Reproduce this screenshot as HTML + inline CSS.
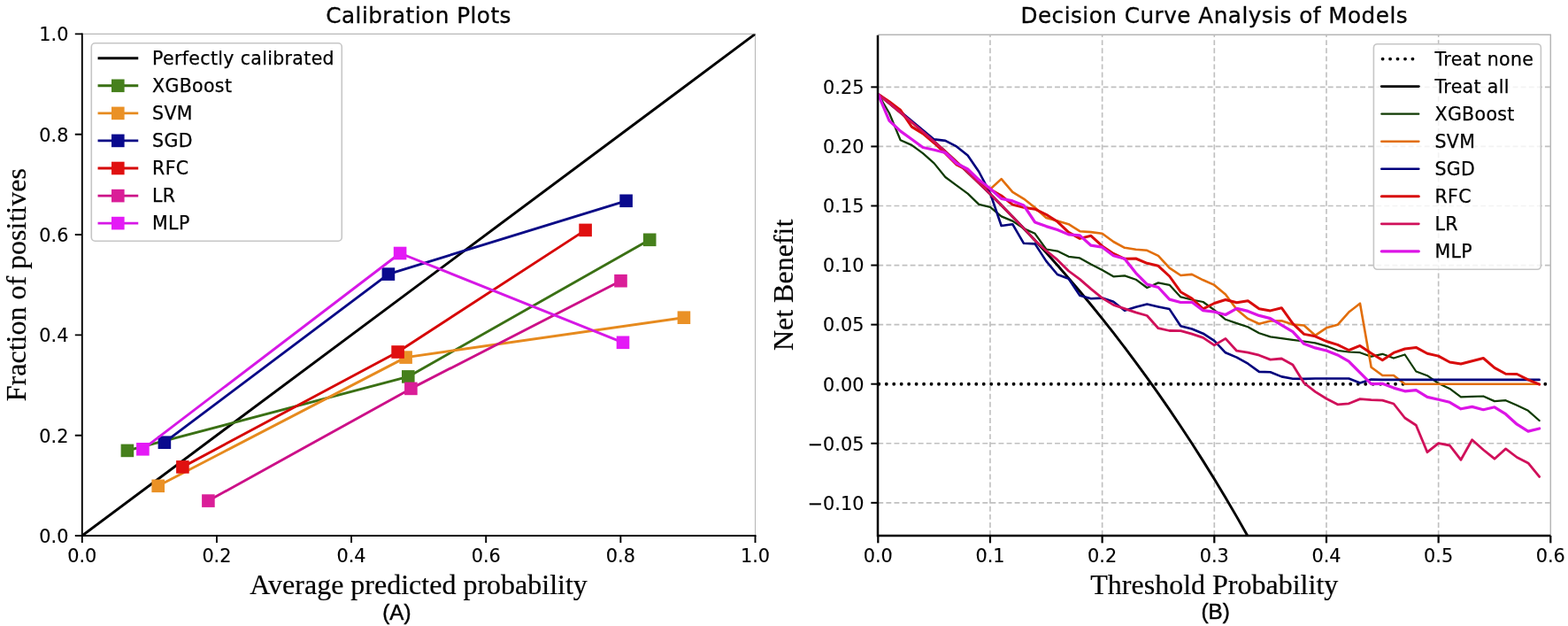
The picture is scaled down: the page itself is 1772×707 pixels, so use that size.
<!DOCTYPE html>
<html lang="en">
<head>
<meta charset="utf-8">
<title>Calibration Plots and Decision Curve Analysis of Models</title>
<style>
html,body{margin:0;padding:0;background:#fff;}
body{width:1772px;height:707px;overflow:hidden;}
svg{display:block;}
text{fill:#000;}
.tk{font-family:'DejaVu Sans', 'Liberation Sans', sans-serif;font-size:20.8px;stroke:#000;stroke-width:0.12px;}
.lg{font-family:'DejaVu Sans', 'Liberation Sans', sans-serif;font-size:20.5px;letter-spacing:0.34px;stroke:#000;stroke-width:0.25px;}
.tt{font-family:'DejaVu Sans', 'Liberation Sans', sans-serif;font-size:24.7px;letter-spacing:0.48px;stroke:#000;stroke-width:0.3px;}
.al{font-family:'Liberation Serif', 'DejaVu Serif', serif;font-size:32px;stroke:#000;stroke-width:0.2px;}
.pn{font-family:'Liberation Sans','DejaVu Sans',sans-serif;font-size:24.2px;stroke:#000;stroke-width:0.45px;}
</style>
</head>
<body>
<svg width="1772" height="707" viewBox="0 0 1772 707">
<defs>
<clipPath id="clipL"><rect x="92.8" y="38.4" width="760.7" height="566.6"/></clipPath>
<clipPath id="clipR"><rect x="992.3" y="38.9" width="760.0" height="566.1"/></clipPath>
</defs>
<rect width="1772" height="707" fill="#fff"/>
<g id="calib">
<path d="M92.8 38.4H853.5V605.0" fill="none" stroke="#b8b8b8" stroke-width="1.1"/>
<g clip-path="url(#clipL)" fill="none" stroke-linejoin="round">
<path d="M92.8 605.0L853.5 38.39999999999998" stroke="#000" stroke-width="2.95" stroke-linecap="square"/>
<path d="M143.9 508.9L461.3 425.4L734.2 270.8" stroke="#3a7014" stroke-width="2.9"/>
<rect x="136.6" y="501.6" width="14.6" height="14.6" fill="#46801c" stroke="none"/>
<rect x="454" y="418.1" width="14.6" height="14.6" fill="#46801c" stroke="none"/>
<rect x="726.9" y="263.5" width="14.6" height="14.6" fill="#46801c" stroke="none"/>
<path d="M178.7 548.8L458.6 403.6L772.9 358.7" stroke="#e68a1e" stroke-width="2.9"/>
<rect x="171.4" y="541.5" width="14.6" height="14.6" fill="#ea9126" stroke="none"/>
<rect x="451.3" y="396.3" width="14.6" height="14.6" fill="#ea9126" stroke="none"/>
<rect x="765.6" y="351.4" width="14.6" height="14.6" fill="#ea9126" stroke="none"/>
<path d="M185.9 499.7L438.9 309.6L707.6 226.8" stroke="#0a0a86" stroke-width="2.9"/>
<rect x="178.6" y="492.4" width="14.6" height="14.6" fill="#0a0a8e" stroke="none"/>
<rect x="431.6" y="302.3" width="14.6" height="14.6" fill="#0a0a8e" stroke="none"/>
<rect x="700.3" y="219.5" width="14.6" height="14.6" fill="#0a0a8e" stroke="none"/>
<path d="M206.4 527.4L449.6 397.5L661.6 259.9" stroke="#d60606" stroke-width="2.9"/>
<rect x="199.1" y="520.1" width="14.6" height="14.6" fill="#e01010" stroke="none"/>
<rect x="442.3" y="390.2" width="14.6" height="14.6" fill="#e01010" stroke="none"/>
<rect x="654.3" y="252.6" width="14.6" height="14.6" fill="#e01010" stroke="none"/>
<path d="M235.4 565.6L464.4 438.9L701.5 317.2" stroke="#cc1088" stroke-width="2.9"/>
<rect x="228.1" y="558.3" width="14.6" height="14.6" fill="#da1e98" stroke="none"/>
<rect x="457.1" y="431.6" width="14.6" height="14.6" fill="#da1e98" stroke="none"/>
<rect x="694.2" y="309.9" width="14.6" height="14.6" fill="#da1e98" stroke="none"/>
<path d="M161.4 507.3L452.1 286L704 386.8" stroke="#d618e6" stroke-width="2.9"/>
<rect x="154.1" y="500" width="14.6" height="14.6" fill="#e41af6" stroke="none"/>
<rect x="444.8" y="278.7" width="14.6" height="14.6" fill="#e41af6" stroke="none"/>
<rect x="696.7" y="379.5" width="14.6" height="14.6" fill="#e41af6" stroke="none"/>
</g>
<path d="M92.8 38.4V605.0H853.5" fill="none" stroke="#000" stroke-width="1.9" stroke-linecap="square"/>
<path d="M92.8 605.0v8.0M92.8 605h-8.0" stroke="#000" stroke-width="1.9"/>
<text x="92.8" y="635.2" text-anchor="middle" class="tk">0.0</text>
<text x="77.4" y="612.8" text-anchor="end" class="tk">0.0</text>
<path d="M244.94 605.0v8.0M92.8 491.68h-8.0" stroke="#000" stroke-width="1.9"/>
<text x="244.94" y="635.2" text-anchor="middle" class="tk">0.2</text>
<text x="77.4" y="499.5" text-anchor="end" class="tk">0.2</text>
<path d="M397.08 605.0v8.0M92.8 378.36h-8.0" stroke="#000" stroke-width="1.9"/>
<text x="397.08" y="635.2" text-anchor="middle" class="tk">0.4</text>
<text x="77.4" y="386.2" text-anchor="end" class="tk">0.4</text>
<path d="M549.22 605.0v8.0M92.8 265.04h-8.0" stroke="#000" stroke-width="1.9"/>
<text x="549.22" y="635.2" text-anchor="middle" class="tk">0.6</text>
<text x="77.4" y="272.8" text-anchor="end" class="tk">0.6</text>
<path d="M701.36 605.0v8.0M92.8 151.72h-8.0" stroke="#000" stroke-width="1.9"/>
<text x="701.36" y="635.2" text-anchor="middle" class="tk">0.8</text>
<text x="77.4" y="159.5" text-anchor="end" class="tk">0.8</text>
<path d="M853.5 605.0v8.0M92.8 38.4h-8.0" stroke="#000" stroke-width="1.9"/>
<text x="853.5" y="635.2" text-anchor="middle" class="tk">1.0</text>
<text x="77.4" y="46.2" text-anchor="end" class="tk">1.0</text>
<text x="473.1" y="26.0" text-anchor="middle" class="tt">Calibration Plots</text>
<text x="473.1" y="670.5" text-anchor="middle" class="al">Average predicted probability</text>
<text transform="translate(29 321.7) rotate(-90)" text-anchor="middle" class="al">Fraction of positives</text>
<text x="448.4" y="699.5" text-anchor="middle" class="pn">(A)</text>
<rect x="103.3" y="48.8" width="283.0" height="223.4" rx="4.2" fill="#fff" fill-opacity="0.8" stroke="#c6c6c6" stroke-width="1.6"/>
<path d="M112 65.8H154.8" stroke="#000" stroke-width="2.9" stroke-linecap="square"/>
<text x="172.1" y="73.1" class="lg">Perfectly calibrated</text>
<path d="M112 96.8H154.8" stroke="#3a7014" stroke-width="2.9" stroke-linecap="square"/>
<rect x="126.0" y="89.5" width="14.6" height="14.6" fill="#46801c"/>
<text x="172.1" y="104.1" class="lg">XGBoost</text>
<path d="M112 127.9H154.8" stroke="#e68a1e" stroke-width="2.9" stroke-linecap="square"/>
<rect x="126.0" y="120.6" width="14.6" height="14.6" fill="#ea9126"/>
<text x="172.1" y="135.2" class="lg">SVM</text>
<path d="M112 158.9H154.8" stroke="#0a0a86" stroke-width="2.9" stroke-linecap="square"/>
<rect x="126.0" y="151.6" width="14.6" height="14.6" fill="#0a0a8e"/>
<text x="172.1" y="166.2" class="lg">SGD</text>
<path d="M112 190.0H154.8" stroke="#d60606" stroke-width="2.9" stroke-linecap="square"/>
<rect x="126.0" y="182.7" width="14.6" height="14.6" fill="#e01010"/>
<text x="172.1" y="197.3" class="lg">RFC</text>
<path d="M112 221.1H154.8" stroke="#cc1088" stroke-width="2.9" stroke-linecap="square"/>
<rect x="126.0" y="213.8" width="14.6" height="14.6" fill="#da1e98"/>
<text x="172.1" y="228.4" class="lg">LR</text>
<path d="M112 252.1H154.8" stroke="#d618e6" stroke-width="2.9" stroke-linecap="square"/>
<rect x="126.0" y="244.8" width="14.6" height="14.6" fill="#e41af6"/>
<text x="172.1" y="259.4" class="lg">MLP</text>
</g>
<g id="dca">
<path d="M1118.97 605.0V38.9M1245.63 605.0V38.9M1372.3 605.0V38.9M1498.97 605.0V38.9M1625.63 605.0V38.9M992.3 567.84H1752.3M992.3 500.77H1752.3M992.3 366.63H1752.3M992.3 299.56H1752.3M992.3 232.49H1752.3M992.3 165.42H1752.3M992.3 98.35H1752.3" fill="none" stroke="#c0c0c0" stroke-width="1.65" stroke-dasharray="5.9 3.18"/>
<path d="M992.3 39.3H1752.3V605.0" fill="none" stroke="#b6b6b6" stroke-width="1.5"/>
<g clip-path="url(#clipR)" fill="none" stroke-linejoin="round" stroke-linecap="round">
<path d="M993.3 433.7H1586M1746.3 433.7h0.01" stroke="#000" stroke-width="3.85" stroke-dasharray="0.01 8.45" />
<path d="M992.3 106.4L1004.97 116.64L1017.63 127.09L1030.3 137.76L1042.97 148.65L1055.63 159.77L1068.3 171.13L1080.97 182.73L1093.63 194.58L1106.3 206.69L1118.97 219.08L1131.63 231.74L1144.3 244.68L1156.97 257.93L1169.63 271.48L1182.3 285.36L1194.97 299.56L1207.63 314.11L1220.3 329.01L1232.97 344.27L1245.63 359.92L1258.3 375.97L1270.97 392.43L1283.63 409.31L1296.3 426.64L1308.97 444.43L1321.63 462.7L1334.3 481.48L1346.97 500.77L1359.63 520.61L1372.3 541.01L1384.97 562.01L1397.63 583.62L1410.3 605.88L1422.97 628.81L1435.63 652.45L1448.3 676.83L1460.97 701.98L1473.63 727.94L1486.3 754.76L1498.97 782.46L1511.63 811.11L1524.3 840.75L1536.97 871.42L1549.63 903.19L1562.3 936.12L1574.97 970.26L1587.63 1005.69L1600.3 1042.49L1612.97 1080.73L1625.63 1120.5L1638.3 1161.89L1650.97 1205.01L1663.63 1249.96L1676.3 1296.86L1688.97 1345.85L1701.63 1397.07L1714.3 1450.67L1726.97 1506.82L1739.63 1565.71" stroke="#000" stroke-width="2.9"/>
<path d="M992.3 106.3L1004.97 127.8L1017.63 158.3L1030.3 163.9L1042.97 173.2L1055.63 184.4L1068.3 200L1080.97 209.4L1093.63 218.6L1106.3 230.9L1118.97 233.8L1131.63 244.4L1144.3 249.6L1156.97 258.1L1169.63 263.8L1182.3 281.5L1194.97 283.6L1207.63 289.8L1220.3 291.4L1232.97 298.4L1245.63 305L1258.3 312.3L1270.97 311.4L1283.63 315.7L1296.3 325L1308.97 319.4L1321.63 321.8L1334.3 335.4L1346.97 338.5L1359.63 341L1372.3 350.2L1384.97 360.8L1397.63 365.1L1410.3 369.3L1422.97 376.2L1435.63 380.4L1448.3 382.1L1460.97 383.8L1473.63 385.5L1486.3 387.3L1498.97 390.8L1511.63 395.8L1524.3 397.5L1536.97 398.2L1549.63 402.7L1562.3 399.8L1574.97 404.5L1587.63 400.5L1600.3 419.5L1612.97 424.2L1625.63 433L1638.3 438.9L1650.97 448.4L1663.63 447.8L1676.3 447.5L1688.97 453.1L1701.63 452.2L1714.3 457.8L1726.97 463.8L1739.63 475" stroke="#0f3a02" stroke-width="2.25"/>
<path d="M992.3 106.4L1004.97 116.6L1017.63 127.1L1030.3 137.8L1042.97 148.7L1055.63 159.8L1068.3 171.1L1080.97 182.7L1093.63 194.6L1106.3 206.7L1118.97 213.7L1131.63 202.1L1144.3 216.8L1156.97 224.6L1169.63 234.5L1182.3 246.1L1194.97 249.6L1207.63 253.2L1220.3 261.2L1232.97 262.1L1245.63 263.8L1258.3 273L1270.97 279.8L1283.63 281.7L1296.3 282.8L1308.97 288.8L1321.63 302.7L1334.3 311L1346.97 309.9L1359.63 316.3L1372.3 321.9L1384.97 332.5L1397.63 349.5L1410.3 359.9L1422.97 365.7L1435.63 362.5L1448.3 362.3L1460.97 366.5L1473.63 367.5L1486.3 378.8L1498.97 370.3L1511.63 366.8L1524.3 352.6L1536.97 342.7L1549.63 414.8L1562.3 424L1574.97 424L1587.63 433.8L1600.3 433.8L1612.97 433.8L1625.63 433.8L1638.3 433.8L1650.97 433.8L1663.63 433.8L1676.3 433.8L1688.97 433.8L1701.63 433.8L1714.3 433.8L1726.97 433.8L1739.63 433.8" stroke="#e26e0a" stroke-width="2.6"/>
<path d="M992.3 106.3L1004.97 115.8L1017.63 125.9L1030.3 136.4L1042.97 147.1L1055.63 157.4L1068.3 158.9L1080.97 165.4L1093.63 175.6L1106.3 194L1118.97 218L1131.63 255L1144.3 253.2L1156.97 274.8L1169.63 275.4L1182.3 294.9L1194.97 310L1207.63 314.7L1220.3 333.8L1232.97 337.3L1245.63 336.6L1258.3 340.8L1270.97 350.8L1283.63 346.8L1296.3 343.6L1308.97 346.4L1321.63 349.1L1334.3 368.2L1346.97 371.5L1359.63 376.7L1372.3 384.9L1384.97 398.3L1397.63 403.6L1410.3 410.7L1422.97 419.9L1435.63 420.3L1448.3 425.4L1460.97 427.7L1473.63 427.9L1486.3 427.5L1498.97 427.5L1511.63 427.5L1524.3 427.5L1536.97 432.5L1549.63 428.6L1562.3 428.9L1574.97 428.9L1587.63 428.9L1600.3 428.9L1612.97 428.9L1625.63 428.9L1638.3 428.9L1650.97 428.9L1663.63 428.9L1676.3 428.9L1688.97 428.9L1701.63 428.9L1714.3 428.9L1726.97 428.9L1739.63 428.9" stroke="#00007c" stroke-width="2.6"/>
<path d="M992.3 106.3L1004.97 114.7L1017.63 124.3L1030.3 143.1L1042.97 150.9L1055.63 161.5L1068.3 173.1L1080.97 186L1093.63 192.5L1106.3 204.5L1118.97 213.7L1131.63 221L1144.3 231.1L1156.97 234.3L1169.63 236.2L1182.3 242.3L1194.97 250.3L1207.63 262.4L1220.3 269.4L1232.97 266.3L1245.63 277.9L1258.3 286.4L1270.97 292.3L1283.63 292L1296.3 297.3L1308.97 300.3L1321.63 312L1334.3 329.7L1346.97 337.1L1359.63 348.8L1372.3 342.5L1384.97 338.5L1397.63 341.7L1410.3 339.7L1422.97 348.7L1435.63 350.9L1448.3 347.7L1460.97 365.4L1473.63 377.4L1486.3 379.8L1498.97 385.5L1511.63 389.4L1524.3 395.5L1536.97 390.4L1549.63 399L1562.3 406.7L1574.97 398.4L1587.63 394L1600.3 392.4L1612.97 399.2L1625.63 402.1L1638.3 409L1650.97 411L1663.63 407.8L1676.3 404.5L1688.97 415.4L1701.63 422.3L1714.3 422.5L1726.97 428.8L1739.63 434.1" stroke="#d80c0c" stroke-width="3.0"/>
<path d="M992.3 106.4L1004.97 116.6L1017.63 127.1L1030.3 137.8L1042.97 148.7L1055.63 159.8L1068.3 171.1L1080.97 182.7L1093.63 194.6L1106.3 206.7L1118.97 219.1L1131.63 231.7L1144.3 244.7L1156.97 257.9L1169.63 271.5L1182.3 283.2L1194.97 293.4L1207.63 306L1220.3 315.4L1232.97 326.4L1245.63 336.6L1258.3 344.4L1270.97 348.6L1283.63 352.9L1296.3 356.5L1308.97 370.7L1321.63 373.5L1334.3 373.6L1346.97 377.1L1359.63 381.4L1372.3 389.9L1384.97 382.4L1397.63 396.2L1410.3 398.1L1422.97 401.2L1435.63 406.1L1448.3 405L1460.97 412L1473.63 432.5L1486.3 442.4L1498.97 450.3L1511.63 456.8L1524.3 455.8L1536.97 450.6L1549.63 451.7L1562.3 452.2L1574.97 456L1587.63 472L1600.3 480.2L1612.97 510.7L1625.63 500.6L1638.3 503L1650.97 519.3L1663.63 496.7L1676.3 508L1688.97 518.2L1701.63 506.9L1714.3 516.5L1726.97 522.9L1739.63 538.4" stroke="#d0105a" stroke-width="2.8"/>
<path d="M992.3 106.3L1004.97 136.3L1017.63 148.1L1030.3 157.3L1042.97 166.5L1055.63 169.3L1068.3 172.5L1080.97 184.5L1093.63 191L1106.3 203.1L1118.97 213L1131.63 224.4L1144.3 226.9L1156.97 232L1169.63 251L1182.3 255.6L1194.97 259.5L1207.63 264.9L1220.3 265.9L1232.97 277.2L1245.63 279.2L1258.3 288.8L1270.97 292.3L1283.63 308.3L1296.3 321.1L1308.97 324.5L1321.63 338.1L1334.3 341.5L1346.97 341.3L1359.63 350.7L1372.3 352.1L1384.97 355.5L1397.63 348.4L1410.3 351.4L1422.97 356.4L1435.63 359.6L1448.3 367.1L1460.97 374.6L1473.63 388.3L1486.3 392.9L1498.97 396L1511.63 400.9L1524.3 408.2L1536.97 420.8L1549.63 433.6L1562.3 433.3L1574.97 438.1L1587.63 441.8L1600.3 440.7L1612.97 448.4L1625.63 451.3L1638.3 454.3L1650.97 461.8L1663.63 459.4L1676.3 462.7L1688.97 459.8L1701.63 467.7L1714.3 479.2L1726.97 487.1L1739.63 484" stroke="#dc14e6" stroke-width="3.2"/>
</g>
<path d="M992.0 39.699999999999996V605.0H1752.3" fill="none" stroke="#000" stroke-width="2.5" stroke-linejoin="miter"/>
<path d="M992.3 605.0v8.3" stroke="#000" stroke-width="2.2"/>
<text x="992.3" y="635.2" text-anchor="middle" class="tk">0.0</text>
<path d="M1118.97 605.0v8.3" stroke="#000" stroke-width="2.2"/>
<text x="1118.97" y="635.2" text-anchor="middle" class="tk">0.1</text>
<path d="M1245.63 605.0v8.3" stroke="#000" stroke-width="2.2"/>
<text x="1245.63" y="635.2" text-anchor="middle" class="tk">0.2</text>
<path d="M1372.3 605.0v8.3" stroke="#000" stroke-width="2.2"/>
<text x="1372.3" y="635.2" text-anchor="middle" class="tk">0.3</text>
<path d="M1498.97 605.0v8.3" stroke="#000" stroke-width="2.2"/>
<text x="1498.97" y="635.2" text-anchor="middle" class="tk">0.4</text>
<path d="M1625.63 605.0v8.3" stroke="#000" stroke-width="2.2"/>
<text x="1625.63" y="635.2" text-anchor="middle" class="tk">0.5</text>
<path d="M1752.3 605.0v8.3" stroke="#000" stroke-width="2.2"/>
<text x="1752.3" y="635.2" text-anchor="middle" class="tk">0.6</text>
<path d="M992.3 567.84h-8.0" stroke="#000" stroke-width="2.0"/>
<text x="976.4" y="575.6" text-anchor="end" class="tk">−0.10</text>
<path d="M992.3 500.77h-8.0" stroke="#000" stroke-width="2.0"/>
<text x="976.4" y="508.6" text-anchor="end" class="tk">−0.05</text>
<path d="M992.3 433.7h-8.0" stroke="#000" stroke-width="2.0"/>
<text x="976.4" y="441.5" text-anchor="end" class="tk">0.00</text>
<path d="M992.3 366.63h-8.0" stroke="#000" stroke-width="2.0"/>
<text x="976.4" y="374.4" text-anchor="end" class="tk">0.05</text>
<path d="M992.3 299.56h-8.0" stroke="#000" stroke-width="2.0"/>
<text x="976.4" y="307.4" text-anchor="end" class="tk">0.10</text>
<path d="M992.3 232.49h-8.0" stroke="#000" stroke-width="2.0"/>
<text x="976.4" y="240.3" text-anchor="end" class="tk">0.15</text>
<path d="M992.3 165.42h-8.0" stroke="#000" stroke-width="2.0"/>
<text x="976.4" y="173.2" text-anchor="end" class="tk">0.20</text>
<path d="M992.3 98.35h-8.0" stroke="#000" stroke-width="2.0"/>
<text x="976.4" y="106.2" text-anchor="end" class="tk">0.25</text>
<text x="1372.3" y="26.0" text-anchor="middle" class="tt">Decision Curve Analysis of Models</text>
<text x="1372.3" y="670.5" text-anchor="middle" class="al">Threshold Probability</text>
<text transform="translate(896.3 321.9) rotate(-90)" text-anchor="middle" class="al">Net Benefit</text>
<text x="1373.6" y="699.1" text-anchor="middle" class="pn">(B)</text>
<rect x="1552.4" y="49.7" width="189.0" height="254.6" rx="4.2" fill="#fff" fill-opacity="0.8" stroke="#c6c6c6" stroke-width="1.6"/>
<path d="M1562.6 66.6H1600" stroke="#000" stroke-width="3.85" stroke-dasharray="0.01 8.45" stroke-linecap="round"/>
<text x="1621.5" y="73.9" class="lg">Treat none</text>
<path d="M1561.3 97.6H1603.3" stroke="#000" stroke-width="2.9" stroke-linecap="round"/>
<text x="1621.5" y="104.9" class="lg">Treat all</text>
<path d="M1561.3 128.7H1603.3" stroke="#0f3a02" stroke-width="2.2" stroke-linecap="round"/>
<text x="1621.5" y="136.0" class="lg">XGBoost</text>
<path d="M1561.3 159.7H1603.3" stroke="#e26e0a" stroke-width="2.6" stroke-linecap="round"/>
<text x="1621.5" y="167.0" class="lg">SVM</text>
<path d="M1561.3 190.7H1603.3" stroke="#00007c" stroke-width="2.6" stroke-linecap="round"/>
<text x="1621.5" y="198.0" class="lg">SGD</text>
<path d="M1561.3 221.8H1603.3" stroke="#d80c0c" stroke-width="3.0" stroke-linecap="round"/>
<text x="1621.5" y="229.1" class="lg">RFC</text>
<path d="M1561.3 252.8H1603.3" stroke="#d0105a" stroke-width="2.8" stroke-linecap="round"/>
<text x="1621.5" y="260.1" class="lg">LR</text>
<path d="M1561.3 283.8H1603.3" stroke="#dc14e6" stroke-width="3.2" stroke-linecap="round"/>
<text x="1621.5" y="291.1" class="lg">MLP</text>
</g>
</svg>
</body>
</html>
